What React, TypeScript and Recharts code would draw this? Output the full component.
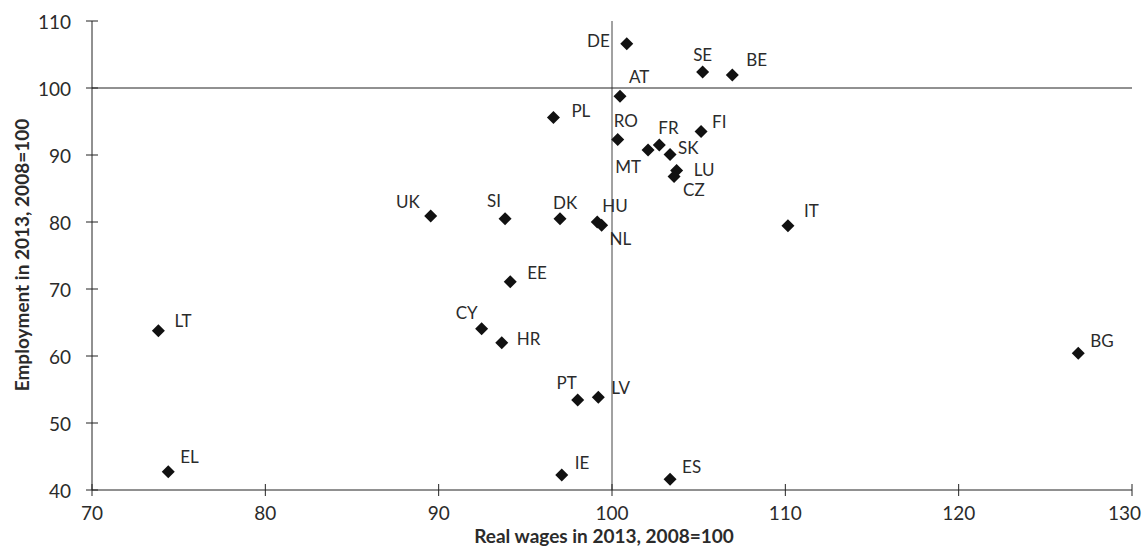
import React from 'react';
import { ScatterChart, Scatter, XAxis, YAxis, ReferenceLine } from 'recharts';

const countries = ['DE','SE','BE','AT','PL','RO','FI','FR','MT','SK','LU','CZ','DK','HU','NL','UK','SI','EE','CY','HR','LT','EL','PT','LV','IE','ES','IT','BG'];
const realWages = [100.85,105.23,106.94,100.46,96.62,100.33,105.14,102.73,102.08,103.35,103.73,103.58,97.0,99.15,99.4,89.54,93.83,94.13,92.48,93.64,73.83,74.4,98.02,99.21,97.1,103.35,110.15,126.9];
const employment = [106.6,102.4,101.95,98.77,95.6,92.3,93.5,91.5,90.76,90.07,87.7,86.8,80.5,80.0,79.5,80.9,80.5,71.1,64.06,61.98,63.77,42.74,53.43,53.83,42.24,41.6,79.43,60.4];
const xTicks = [70, 80, 90, 100, 110, 120, 130];
const yTicks = [40, 50, 60, 70, 80, 90, 100, 110];

// label placement (styling only): [dx, dy, anchor]
const labelStyle: Record<string, [number, number, string]> = {
  DE: [-17, -3, 'end'], SE: [0, -17, 'middle'], BE: [14, -15, 'start'], AT: [9, -20, 'start'],
  PL: [18, -7, 'start'], RO: [-4, -19, 'start'], FI: [11, -10, 'start'], FR: [-1, -17, 'start'],
  MT: [-7, 17, 'end'], SK: [8, -7, 'start'], LU: [17, -1, 'start'], CZ: [9, 13, 'start'],
  DK: [-7, -16, 'start'], HU: [5, -17, 'start'], NL: [8, 13, 'start'], UK: [-11, -14, 'end'],
  SI: [-4, -18, 'end'], EE: [17, -9, 'start'], CY: [-4, -16, 'end'], HR: [15, -4, 'start'],
  LT: [16, -10, 'start'], EL: [12, -15, 'start'], PT: [-1, -18, 'end'], LV: [13, -10, 'start'],
  IE: [13, -12, 'start'], ES: [12, -13, 'start'], IT: [16, -15, 'start'], BG: [12, -13, 'start'],
};

const data = countries.map((c, i) => ({ name: c, x: realWages[i], y: employment[i] }));

const FONT = "Lato, 'Open Sans', sans-serif";
const TEXT = '#2b2b2b';

const DiamondShape = (props: any) => {
  const { cx, cy, payload } = props;
  if (cx == null || cy == null) return null;
  const r = 6.5;
  const ls = labelStyle[payload.name] || [10, -10, 'start'];
  return (
    <g>
      <polygon points={`${cx},${cy - r} ${cx + r},${cy} ${cx},${cy + r} ${cx - r},${cy}`} fill="#111" />
      <text x={cx + ls[0]} y={cy + ls[1]} textAnchor={ls[2] as any} dominantBaseline="central"
        fontFamily={FONT} fontSize={17} fill={TEXT}>{payload.name}</text>
    </g>
  );
};

const YTick = (props: any) => {
  const { x, y, payload } = props;
  return (
    <g>
      <line x1={x - 6} x2={x + 6} y1={y} y2={y} stroke="#222" strokeWidth={1} />
      <text x={x - 21} y={y} textAnchor="end" dominantBaseline="central" fontFamily={FONT} fontSize={19} fill={TEXT}>{payload.value}</text>
    </g>
  );
};

const XTick = (props: any) => {
  const { x, y, payload } = props;
  const last = payload.value === 130;
  return (
    <g>
      <line x1={x} x2={x} y1={y - 6} y2={y + 6} stroke="#222" strokeWidth={1} />
      <text x={last ? x + 9 : x} y={y + 22} textAnchor={last ? 'end' : 'middle'} dominantBaseline="central" fontFamily={FONT} fontSize={19} fill={TEXT}>{payload.value}</text>
    </g>
  );
};

export default function App() {
  return (
    <div style={{ position: 'absolute', left: 0, top: 0, width: 1143, height: 551, background: '#fff' }}>
      <ScatterChart width={1143} height={551} margin={{ top: 21, right: 11, bottom: 21, left: 32 }}>
        <XAxis type="number" dataKey="x" domain={[70, 130]} ticks={xTicks} interval={0}
          axisLine={{ stroke: '#222' }} tickLine={false} tickSize={0} tickMargin={0} height={40}
          tick={<XTick />}
          label={{ content: () => (
            <text x={604} y={535} textAnchor="middle" dominantBaseline="central" fontFamily={FONT} fontSize={19} fontWeight={700} fill={TEXT}>Real wages in 2013, 2008=100</text>
          ) }} />
        <YAxis type="number" dataKey="y" domain={[40, 110]} ticks={yTicks} interval={0}
          axisLine={{ stroke: '#222' }} tickLine={false} tickSize={0} tickMargin={0} width={60}
          tick={<YTick />}
          label={{ content: () => (
            <text x={21} y={255} transform="rotate(-90 21 255)" textAnchor="middle" dominantBaseline="central" fontFamily={FONT} fontSize={19} fontWeight={700} fill={TEXT}>Employment in 2013, 2008=100</text>
          ) }} />
        <ReferenceLine x={100} stroke="#444" strokeWidth={1} />
        <ReferenceLine y={100} stroke="#222" strokeWidth={1} />
        <Scatter data={data} shape={<DiamondShape />} isAnimationActive={false} />
      </ScatterChart>
    </div>
  );
}
